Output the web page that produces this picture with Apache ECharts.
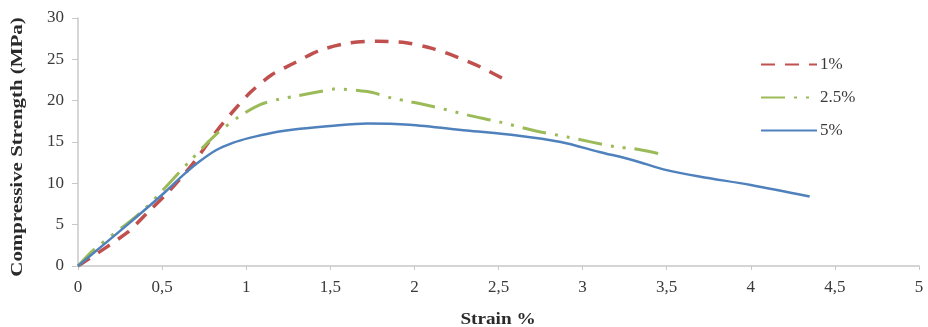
<!DOCTYPE html>
<html>
<head>
<meta charset="utf-8">
<script src="https://cdn.jsdelivr.net/npm/echarts@6/dist/echarts.min.js"></script>
<style>
  html, body { margin: 0; padding: 0; background: #fff; }
  #chart { width: 928px; height: 327px; }
</style>
</head>
<body>
<div id="chart"></div>
<script>
// Stress-strain curves for three fibre contents
const seriesNames = ['1%', '2.5%', '5%'];

const strain1 = [0, 0.29, 0.41, 0.53, 0.68, 0.82, 0.93, 1.03, 1.15, 1.28, 1.44, 1.62, 1.78, 1.95, 2.11, 2.25, 2.39, 2.57];
const stress1 = [0, 4.0, 6.4, 8.8, 12.3, 16.2, 18.9, 21.1, 23.1, 24.5, 26.1, 27.0, 27.2, 27.0, 26.3, 25.3, 24.1, 22.2];

const strain2 = [0, 0.09, 0.39, 0.67, 0.82, 0.96, 1.08, 1.2, 1.28, 1.44, 1.52, 1.72, 1.87, 1.97, 2.11, 2.31, 2.51, 2.71, 2.91, 3.2, 3.3, 3.5];
const stress2 = [0, 1.9, 6.8, 12.8, 15.9, 18.1, 19.5, 20.2, 20.5, 21.1, 21.4, 21.1, 20.3, 19.9, 19.3, 18.3, 17.4, 16.4, 15.6, 14.4, 14.2, 13.4];

const strain3 = [0, 0.3, 0.51, 0.62, 0.72, 0.82, 0.92, 1.02, 1.15, 1.32, 1.5, 1.72, 1.97, 2.31, 2.61, 2.87, 3.1, 3.3, 3.5, 3.7, 4.0, 4.35];
const stress3 = [0, 5.1, 8.8, 10.9, 12.6, 14.0, 14.9, 15.5, 16.1, 16.6, 16.95, 17.25, 17.1, 16.4, 15.8, 15.0, 13.8, 12.8, 11.6, 10.8, 9.8, 8.4];

const xTicks = ['0', '0,5', '1', '1,5', '2', '2,5', '3', '3,5', '4', '4,5', '5'];
const xTitle = 'Strain %';
const yTitle = 'Compressive Strength (MPa)';

const pair = (xs, ys) => xs.map((x, i) => [x, ys[i]]);

const serif = 'Liberation Serif';
const chart = echarts.init(document.getElementById('chart'));

chart.setOption({
  backgroundColor: '#ffffff',
  animation: false,
  grid: { left: 78, right: 9, top: 18, bottom: 61 },
  legend: {
    orient: 'vertical',
    left: 755,
    top: 51,
    itemWidth: 56,
    itemHeight: 18,
    itemGap: 16,
    itemStyle: { opacity: 0 },
    textStyle: { fontFamily: serif, fontSize: 17, color: '#3a3a3a', padding: [0, 0, 0, -2] },
    data: seriesNames
  },
  graphic: [
    {
      type: 'text',
      x: 498, y: 320,
      scaleX: 1.2,
      style: {
        text: xTitle, fontFamily: serif, fontSize: 16, fontWeight: 'bold',
        fill: '#2a2a2a', align: 'center', verticalAlign: 'middle'
      }
    },
    {
      type: 'text',
      x: 18, y: 147,
      rotation: Math.PI / 2,
      scaleX: 1.23,
      style: {
        text: yTitle, fontFamily: serif, fontSize: 17, fontWeight: 'bold',
        fill: '#2a2a2a', align: 'center', verticalAlign: 'middle'
      }
    }
  ],
  xAxis: {
    type: 'value',
    min: 0, max: 5, interval: 0.5,
    axisLine: { show: true, lineStyle: { color: '#c8c8c8', width: 1.5 } },
    axisTick: { show: true, inside: false, length: 4, lineStyle: { color: '#c8c8c8' } },
    splitLine: { show: false },
    axisLabel: {
      fontFamily: serif, fontSize: 17, color: '#3a3a3a', margin: 13,
      formatter: v => xTicks[Math.round(v / 0.5)]
    }
  },
  yAxis: {
    type: 'value',
    min: 0, max: 30, interval: 5,
    axisLine: { show: true, lineStyle: { color: '#c8c8c8', width: 1.5 } },
    axisTick: { show: true, length: 6, lineStyle: { color: '#c8c8c8' } },
    splitLine: { show: false },
    axisLabel: { fontFamily: serif, fontSize: 17, color: '#3a3a3a', margin: 14 }
  },
  series: [
    {
      name: seriesNames[0], type: 'line', smooth: 0.3, symbol: 'none',
      data: pair(strain1, stress1),
      lineStyle: { color: '#c0504d', width: 3.5, type: [14, 10] },
      itemStyle: { color: '#c0504d' }
    },
    {
      name: seriesNames[1], type: 'line', smooth: 0.3, symbol: 'none',
      data: pair(strain2, stress2),
      lineStyle: { color: '#9bbb59', width: 3, type: [24, 9, 3, 9, 3, 9] },
      itemStyle: { color: '#9bbb59' }
    },
    {
      name: seriesNames[2], type: 'line', smooth: 0.3, symbol: 'none',
      data: pair(strain3, stress3),
      lineStyle: { color: '#4f81bd', width: 2.5 },
      itemStyle: { color: '#4f81bd' }
    }
  ]
});
</script>
</body>
</html>
